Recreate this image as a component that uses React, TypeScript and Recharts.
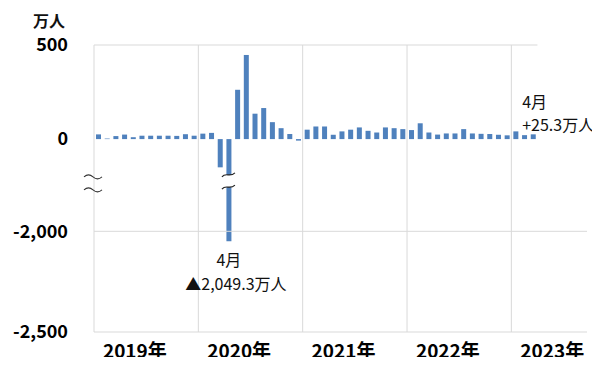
import { Bar, BarChart, LabelList, ReferenceLine, XAxis, YAxis } from 'recharts';

const FONT = "'Noto Sans CJK JP', 'Noto Sans', sans-serif";
const BAR_COLOR = '#4f81bd';
const GRID = '#d9d9d9';

// monthly change in nonfarm payrolls, 万人
const yearLabels = ['2019年', '2020年', '2021年', '2022年', '2023年'];
const change2019 = [25, 3, 16, 24, 10, 18, 18, 18, 18, 17, 26, 18];
const change2020 = [29, 33, -150, -2049.3, 262, 447, 135, 165, 90, 58, 27, -8];
const change2021 = [50, 67, 67, 23, 41, 50, 62, 44, 35, 62, 58, 53];
const change2022 = [48, 84, 35, 24, 30, 30, 53, 30, 28, 27, 23, 20];
const change2023 = [41, 21, 25.3];
const yTickValues = [500, 0, -2000, -2500];

const callouts = [
  { year: 1, month: 3, side: 'below', lines: ['4月', '▲2,049.3万人'] },
  { year: 4, month: 2, side: 'right', lines: ['4月', '+25.3万人'] },
];

// broken axis: values above UPPER_LIMIT are drawn 1:1, the low end is shifted up
const UPPER_LIMIT = -200;
const LOWER_REF = -2000;
const LOWER_REF_AT = -490;
const LOWER_STRETCH = 1.07;
const toAxis = (v: number) => (v >= UPPER_LIMIT ? v : LOWER_REF_AT + (v - LOWER_REF) * LOWER_STRETCH);
const BAR_GAP = [-190, -255];
const AXIS_GAP = [-201, -270];
const X_MAX = 56.2;

const yearSeries = [change2019, change2020, change2021, change2022, change2023];
const yearStarts = yearSeries.map((_, k) => yearSeries.slice(0, k).reduce((s, a) => s + a.length, 0));
const rows = yearSeries.flatMap((vals, y) =>
  vals.map((v, m) => {
    const c = callouts.findIndex(o => o.year === y && o.month === m);
    return { i: yearStarts[y] + m, value: v, drawn: toAxis(v), callout: c >= 0 ? c : undefined };
  })
);
const lastIndex = rows.length - 1;
const yearTicks = yearStarts.map(s => s + 4.2);
const yTicks = yTickValues.map(toAxis);

function BrokenBar(props: any) {
  const { x, y, width, height, payload } = props;
  const top = Math.min(y, y + height);
  const bottom = Math.max(y, y + height);
  const d = payload.drawn;
  if (d > BAR_GAP[1]) return <rect x={x} y={top} width={width} height={bottom - top} fill={BAR_COLOR} />;
  const ppu = (bottom - top) / Math.abs(d);
  const g1 = top - BAR_GAP[0] * ppu;
  const g2 = top - BAR_GAP[1] * ppu;
  const cx = x + width / 2;
  const wave = (gy: number) => `M${cx - 7},${gy + 2} C${cx - 3},${gy - 3} ${cx + 1},${gy + 3} ${cx + 6},${gy - 2}`;
  return (
    <g>
      <rect x={x} y={top} width={width} height={g1 - top} fill={BAR_COLOR} />
      <rect x={x} y={g2} width={width} height={bottom - g2} fill={BAR_COLOR} />
      <path d={wave(g1)} stroke='#222' strokeWidth={1.2} fill='none' />
      <path d={wave(g2)} stroke='#222' strokeWidth={1.2} fill='none' />
    </g>
  );
}

// the "≈" mark on the value axis, drawn at the middle of the gap
function AxisBreak(props: any) {
  const { x1, y1 } = props;
  const wave = (gy: number) => `M${x1 - 10},${gy} Q${x1 - 5.5},${gy - 4} ${x1 - 1},${gy} T${x1 + 8},${gy}`;
  return (
    <g>
      <path d={wave(y1 - 6.5)} stroke='#333' strokeWidth={1.1} fill='none' />
      <path d={wave(y1 + 6.5)} stroke='#333' strokeWidth={1.1} fill='none' />
    </g>
  );
}

function Callout(props: any) {
  if (props.value == null) return null;
  const c = callouts[props.value];
  if (!c) return null;
  const vb = props.viewBox ?? props;
  const top = Math.min(vb.y, vb.y + vb.height);
  const bottom = Math.max(vb.y, vb.y + vb.height);
  const cx = vb.x + vb.width / 2;
  const style = { fontSize: 16, fill: '#111', fontFamily: FONT };
  if (c.side === 'below') {
    return (
      <g>
        <text x={cx} y={bottom + 18} textAnchor='middle' dominantBaseline='central' style={style}>{c.lines[0]}</text>
        <text x={cx + 7} y={bottom + 42} textAnchor='middle' dominantBaseline='central' style={style}>{c.lines[1]}</text>
      </g>
    );
  }
  return (
    <g>
      <text x={cx - 11} y={top - 33} dominantBaseline='central' style={style}>{c.lines[0]}</text>
      <text x={cx - 11} y={top - 10} dominantBaseline='central' style={style}>{c.lines[1]}</text>
    </g>
  );
}

export default function App() {
  return (
    <div style={{ margin: -8, width: 600, height: 365, background: '#fff', position: 'relative', fontFamily: FONT }}>
      <span style={{ position: 'absolute', left: 33, top: 8, fontSize: 16, fontWeight: 700, color: '#111' }}>万人</span>
      <BarChart width={600} height={365} data={rows} margin={{ top: 45, right: 13, bottom: 0, left: 0 }} style={{ fontFamily: FONT }}>
        <XAxis
          type='number'
          dataKey='i'
          domain={[-0.5, X_MAX]}
          ticks={yearTicks}
          interval={0}
          tickFormatter={(v: number) => yearLabels[yearTicks.indexOf(v)] ?? ''}
          axisLine={false}
          tickLine={false}
          tickSize={0}
          tickMargin={13}
          height={33}
          tick={{ fill: '#000', fontSize: 19, fontWeight: 700 }}
        />
        <YAxis
          type='number'
          domain={[yTicks[3], yTicks[0]]}
          ticks={yTicks}
          interval={0}
          tickFormatter={(v: number) => yTickValues[yTicks.indexOf(v)].toLocaleString('en-US')}
          axisLine={false}
          tickLine={false}
          tickSize={0}
          tickMargin={26}
          width={94}
          tick={{ fill: '#000', fontSize: 18, fontWeight: 700 }}
        />
        {yearStarts.map(s => (
          <ReferenceLine key={s} x={s - 0.5} stroke={GRID} />
        ))}
        <ReferenceLine segment={[{ x: -0.5, y: yTicks[0] }, { x: lastIndex + 0.5, y: yTicks[0] }]} stroke={GRID} />
        <ReferenceLine y={yTicks[2]} stroke={GRID} />
        <ReferenceLine y={yTicks[3]} stroke={GRID} />
        <Bar dataKey='drawn' fill={BAR_COLOR} barSize={5} isAnimationActive={false} shape={BrokenBar}>
          <LabelList dataKey='callout' content={Callout} />
        </Bar>
        <ReferenceLine y={(AXIS_GAP[0] + AXIS_GAP[1]) / 2} stroke='none' shape={AxisBreak} />
      </BarChart>
    </div>
  );
}
